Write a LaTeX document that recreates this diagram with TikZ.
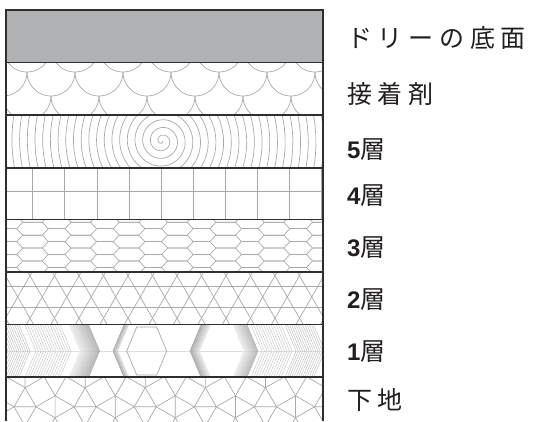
\documentclass[tikz,border=0pt]{standalone}
\usepackage{fontspec}
\newfontfamily\jp[LetterSpace=23]{Noto Sans CJK JP}
\newfontfamily\jpn{Noto Sans CJK JP}
\setsansfont{Liberation Sans}
\definecolor{patc}{HTML}{A9A9A9}
\definecolor{edgec}{HTML}{2E2E2E}
\definecolor{dolly}{HTML}{B1B2B4}
\definecolor{txt}{HTML}{231F20}
\begin{document}
\begin{tikzpicture}[x=1pt,y=-1pt,
  pat/.style={draw=patc, line width=0.7pt},
  layerline/.style={draw=edgec, line width=1.6pt},
  lbl/.style={anchor=west, inner sep=0pt, text=txt, font=\jp\fontsize{25}{25}\selectfont},
  nlbl/.style={anchor=west, inner sep=0pt, text=txt, font=\sffamily\bfseries\fontsize{24}{25}\selectfont}]
\useasboundingbox (0,0) rectangle (535,421);
% ---- dolly bottom
\fill[dolly] (6,10) rectangle (323,62.5);
% ---- adhesive: fish scales
\begin{scope}
\clip (6,62.5) rectangle (323,115);
\foreach \cy/\ox in {48/27,72/51,96/27,120/51}{
  \foreach \k in {-1,...,7}{
    \draw[pat] plot[domain=0:180,samples=31,variable=\t]
      ({\ox+48*\k+24*cos(\t)},{\cy+24*sin(\t)});
  }
}
\end{scope}
% ---- layer 5: spiral
\begin{scope}
\clip (6,115) rectangle (323,167.7);
\draw[pat] plot[domain=0:7920,samples=1800,variable=\t]
  ({162+(\t/360)*7.7*cos(\t)},{141+(\t/360)*7.7*sin(\t)});
\end{scope}
% ---- layer 4: grid
\begin{scope}
\clip (6,167.7) rectangle (323,219.3);
\foreach \k in {1,...,10}{\draw[pat] ({0.6+32.1*\k},167) -- ({0.6+32.1*\k},220);}
\draw[pat] (6,191) -- (323,191);
\end{scope}
% ---- layer 3: elongated hexagons
\begin{scope}
\clip (6,219.3) rectangle (323,272);
\foreach \k in {-1,...,6}{
  \foreach \j in {-1,...,4}{
    \pgfmathsetmacro\hx{16.7+48.3*\k}
    \pgfmathsetmacro\hy{228.7+12.9*\j}
    \draw[pat] (\hx,\hy) -- ++(6,-6.45) -- ++(19.6,0) -- ++(6,6.45) -- ++(-6,6.45) -- ++(-19.6,0) -- cycle;
    \draw[pat] ({\hx+31.6},\hy) -- ({\hx+48.3},\hy);
  }
}
\end{scope}
% ---- layer 2: hexagram lattice
\begin{scope}
\clip (6,272) rectangle (323,324.3);
\foreach \j in {-5,...,16}{
  \draw[pat] ({30+24.5*\j-40},{275.7-69.3}) -- ({30+24.5*\j+40},{275.7+69.3});
  \draw[pat] ({30+24.5*\j+40},{275.7-69.3}) -- ({30+24.5*\j-40},{275.7+69.3});
}
\draw[pat] (6,286.3) -- (323,286.3);
\draw[pat] (6,307.5) -- (323,307.5);
\end{scope}
% ---- layer 1: blended hexagons
\begin{scope}
\clip (6,324.3) rectangle (323,376.7);
\draw[draw=gray!25, line width=0.6pt] (6,351) -- (323,351);
\foreach \a in {8,10.2,...,31}{\draw[draw=gray!50,line width=0.45pt] ({\a-11.3},324) -- (\a,351) -- ({\a-11.3},378);}
\foreach \a in {36,38.5,...,72}{\draw[draw=gray!45,line width=0.45pt] ({\a-11.3},324) -- (\a,351) -- ({\a-11.3},378);}
\foreach \a in {80,80.7,...,100}{\pgfmathsetmacro\c{8+1.4*(\a-80)}
  \draw[draw=black!\c,line width=0.5pt] ({\a-11.3},324) -- (\a,351) -- ({\a-11.3},378);}
\foreach \a in {113,113.6,...,118}{\pgfmathsetmacro\c{38-5*(\a-113)}
  \draw[draw=black!\c,line width=0.5pt] ({\a+11.3},324) -- (\a,351) -- ({\a+11.3},378);}
\draw[pat] (126.7,351) -- (136.7,327) -- (156.7,327) -- (166.7,351) -- (156.7,375) -- (136.7,375) -- cycle;
\foreach \a in {190,190.6,...,200}{\pgfmathsetmacro\c{38-3*(\a-190)}
  \draw[draw=black!\c,line width=0.5pt] ({\a+11.3},324) -- (\a,351) -- ({\a+11.3},378);}
\foreach \a in {244,244.7,...,258}{\pgfmathsetmacro\c{8+1.8*(\a-244)}
  \draw[draw=black!\c,line width=0.5pt] ({\a-11.3},324) -- (\a,351) -- ({\a-11.3},378);}
\foreach \a in {262,264.5,...,293}{\draw[draw=gray!45,line width=0.45pt] ({\a-11.3},324) -- (\a,351) -- ({\a-11.3},378);}
\foreach \a in {296,298.2,...,325}{\draw[draw=gray!50,line width=0.45pt] ({\a-11.3},324) -- (\a,351) -- ({\a-11.3},378);}
\end{scope}
% ---- base: snub square tiling (squares at 30 and 60 degrees)
\begin{scope}
\clip (6,376.7) rectangle (323,421);
\begin{scope}[rotate around={-30:(6,376.7)}]
\foreach \i in {-4,...,12}{
  \foreach \j in {-8,...,6}{
    \pgfmathsetmacro\bx{6+22*(1.866*\i-0.5*\j)}
    \pgfmathsetmacro\by{376.7+22*(0.5*\i+1.866*\j)}
    \draw[pat] (\bx,\by) -- +(22,0) -- +(22,22) -- +(0,22) -- cycle;
    \draw[pat] ({\bx+22},{\by+22}) -- +(-11,19.05) -- +(8.05,30.05) -- +(19.05,11) -- cycle;
    \draw[pat] (\bx,{\by+22}) -- +(11,19.05);
    \draw[pat] ({\bx+22},{\by+22}) -- +(19.05,-11);
  }
}
\end{scope}
\end{scope}
% ---- borders
\draw[edgec, line width=1.3pt] (6,10) rectangle (323,62.5);
\foreach \y in {62.5,115,167.7,219.3,272,324.3,376.7}{\draw[layerline] (6,\y) -- (323,\y);}
\draw[edgec, line width=1.5pt] (6,10) -- (6,421);
\draw[edgec, line width=1.5pt] (323,10) -- (323,421);
% ---- labels
\node[lbl] (l0) at (347,38) {ドリーの底面};
\node[lbl] (l1) at (347,94) {接着剤};
\node[nlbl] (l2) at (347,150) {5{\normalfont\jpn\fontsize{25}{25}\selectfont 層}};
\node[nlbl] (l3) at (347,196) {4{\normalfont\jpn\fontsize{25}{25}\selectfont 層}};
\node[nlbl] (l4) at (347,248) {3{\normalfont\jpn\fontsize{25}{25}\selectfont 層}};
\node[nlbl] (l5) at (347,300) {2{\normalfont\jpn\fontsize{25}{25}\selectfont 層}};
\node[nlbl] (l6) at (347,352) {1{\normalfont\jpn\fontsize{25}{25}\selectfont 層}};
\node[lbl] (l7) at (347,400) {下地};
\end{tikzpicture}
\end{document}
